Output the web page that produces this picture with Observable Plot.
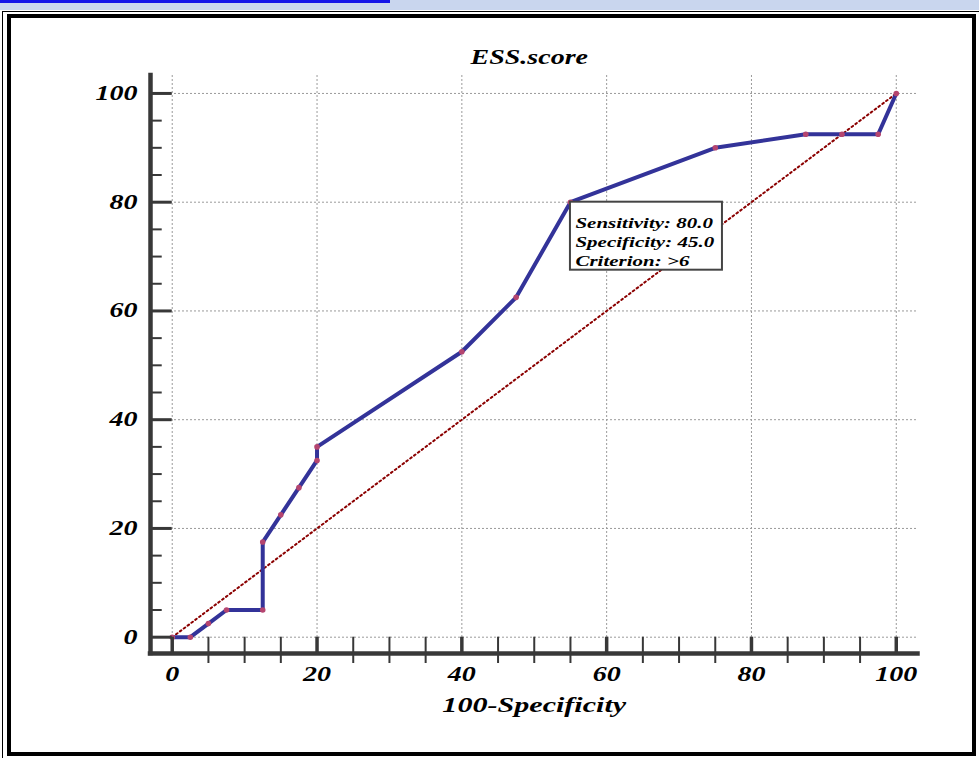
<!DOCTYPE html>
<html>
<head>
<meta charset="utf-8">
<script src="https://cdn.jsdelivr.net/npm/d3@7"></script>
<script src="https://cdn.jsdelivr.net/npm/@observablehq/plot@0.6"></script>
<style>
  html, body { margin: 0; padding: 0; background: #ffffff; }
  body { width: 979px; height: 758px; position: relative; overflow: hidden; }
  #strip { position: absolute; left: 0; top: 0; width: 979px; height: 10px; background: #c9d6ee; }
  #link { position: absolute; left: 0; top: 0; width: 390px; height: 3px; background: #1414e8; }
  #outer { position: absolute; left: 2px; top: 11px; width: 990px; height: 760px; border-left: 1px solid #000; border-top: 1px solid #000; }
  #frame { position: absolute; left: 7px; top: 14px; width: 969px; height: 742px; box-sizing: border-box; border: 4px solid #000; background: #fff; }
  #chart { position: absolute; left: 0; top: 0; }
</style>
</head>
<body>
<div id="strip"></div>
<div id="link"></div>
<div id="outer"></div>
<div id="frame"></div>
<div id="chart"></div>
<script>
// ROC curve points: 100-Specificity (x) and Sensitivity (y)
const fpr = [0, 2.5, 5, 7.5, 12.5, 12.5, 15, 17.5, 20, 20, 40, 47.5, 55, 75, 87.5, 92.5, 97.5, 100];
const tpr = [0, 0, 2.5, 5, 5, 17.5, 22.5, 27.5, 32.5, 35, 52.5, 62.5, 80, 90, 92.5, 92.5, 92.5, 100];
const diagonal = [0, 100];

const xMajorTicks = [0, 20, 40, 60, 80, 100];
const xMinorTicks = [5, 10, 15, 25, 30, 35, 45, 50, 55, 65, 70, 75, 85, 90, 95];
const yMajorTicks = [0, 20, 40, 60, 80, 100];
const yMinorTicks = [5, 10, 15, 25, 30, 35, 45, 50, 55, 65, 70, 75, 85, 90, 95];

const titleText = "ESS.score";
const xLabel = "100-Specificity";

const tipSensitivity = 80.0;
const tipSpecificity = 45.0;
const tipCriterion = ">6";

const xDomain = [-3, 103];
const yDomain = [-3, 103.3];

const pts = fpr.map((x, i) => ({x, y: tpr[i]}));
const tip = [{
  x: 100 - tipSpecificity,
  y: tipSensitivity,
  label: `Sensitivity: ${tipSensitivity.toFixed(1)}\nSpecificity: ${tipSpecificity.toFixed(1)}\nCriterion: ${tipCriterion}`
}];

const font = "'Liberation Serif', 'Times New Roman', serif";
const axisColor = "#383838";
const txt = {fontFamily: font, fontWeight: "bold", fontStyle: "italic", fill: "#000"};

const plot = Plot.plot({
  width: 979,
  height: 758,
  marginLeft: 150,
  marginRight: 61.5,
  marginTop: 75,
  marginBottom: 105,
  x: {domain: xDomain, axis: null},
  y: {domain: yDomain, axis: null},
  style: {background: "transparent", overflow: "visible"},
  marks: [
    // grid
    Plot.ruleX(xMajorTicks, {x: d => d, stroke: "#9a9a9a", strokeWidth: 1, strokeDasharray: "2,2"}),
    Plot.ruleY(yMajorTicks, {y: d => d, stroke: "#9a9a9a", strokeWidth: 1, strokeDasharray: "2,2"}),
    // reference diagonal
    Plot.line(diagonal, {x: d => d, y: d => d, stroke: "#8b0000", strokeWidth: 2, strokeDasharray: "1.8,3"}),
    // ROC curve
    Plot.line(pts, {x: "x", y: "y", stroke: "#333399", strokeWidth: 4, strokeLinejoin: "round"}),
    Plot.dot(pts, {x: "x", y: "y", r: 2.8, fill: "#b5456f", stroke: "none"}),
    // tooltip box
    Plot.rect(tip, {x1: "x", x2: "x", y1: "y", y2: "y", insetRight: -152, insetBottom: -68,
      fill: "white", stroke: "#444", strokeWidth: 2}),
    Plot.text(tip, {x: "x", y: "y", text: "label", textAnchor: "start", lineAnchor: "top",
      dx: 5, dy: 12.5, fontSize: 15, lineHeight: 1.27, ...txt}),
    // axes lines
    Plot.ruleX([xDomain[0]], {x: d => d, stroke: axisColor, strokeWidth: 4.5, strokeLinecap: "square"}),
    Plot.ruleY([yDomain[0]], {y: d => d, stroke: axisColor, strokeWidth: 4.5, strokeLinecap: "square"}),
    // ticks
    Plot.ruleY(yMajorTicks, {y: d => d, x1: xDomain[0], x2: 0, stroke: axisColor, strokeWidth: 3}),
    Plot.ruleY(yMinorTicks, {y: d => d, x1: xDomain[0], x2: 0, insetRight: 10, stroke: axisColor, strokeWidth: 2}),
    Plot.ruleX(xMajorTicks, {x: d => d, y1: yDomain[0], y2: 0, stroke: axisColor, strokeWidth: 3.5}),
    Plot.ruleX(xMinorTicks, {x: d => d, y1: yDomain[0], y2: 0, insetTop: 10, stroke: axisColor, strokeWidth: 2}),
    // tick labels
    Plot.text(xMajorTicks, {x: d => d, y: yDomain[0], text: d => String(d), dy: 21,
      lineAnchor: "middle", textAnchor: "middle", fontSize: 20, ...txt}),
    Plot.text(yMajorTicks, {x: xDomain[0], y: d => d, text: d => String(d), dx: -13,
      lineAnchor: "middle", textAnchor: "end", fontSize: 20, ...txt}),
    // titles
    Plot.text([titleText], {frameAnchor: "top", text: d => d, dx: -5, dy: -18,
      lineAnchor: "middle", fontSize: 20, ...txt}),
    Plot.text([xLabel], {frameAnchor: "bottom", text: d => d, dx: 0, dy: 52,
      lineAnchor: "middle", fontSize: 21.5, ...txt})
  ]
});

// the original typesetting is horizontally stretched: widen every label around its anchor
const S = 1.4;
plot.querySelectorAll("text").forEach(t => {
  const tr = t.getAttribute("transform") || "";
  t.setAttribute("transform", `${tr} scale(${S},1)`);
});

document.getElementById("chart").appendChild(plot);
</script>
</body>
</html>
